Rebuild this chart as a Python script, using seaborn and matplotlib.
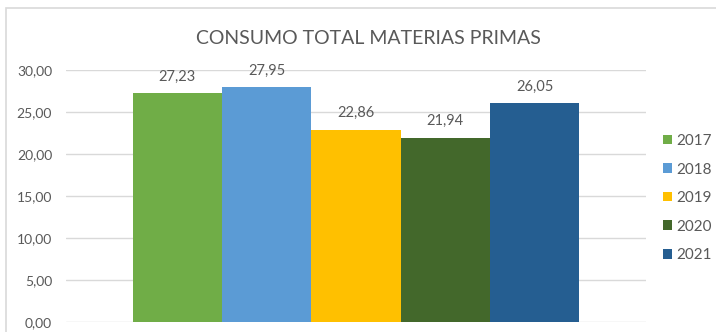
import matplotlib
matplotlib.use("Agg")
import matplotlib.pyplot as plt
import seaborn as sns
import pandas as pd
from matplotlib.patches import Rectangle

years = ["2017", "2018", "2019", "2020", "2021"]
values = [27.23, 27.95, 22.86, 21.94, 26.05]
colors = ["#70AD47", "#5B9BD5", "#FFC000", "#43682B", "#255E91"]
yticks = [0, 5, 10, 15, 20, 25, 30]
title = "CONSUMO TOTAL MATERIAS PRIMAS"

sns.set_theme(style="white")
plt.rcParams["font.family"] = ["Lato", "DejaVu Sans"]

df = pd.DataFrame({"cat": ["x"] * len(years), "year": years, "value": values})

fig = plt.figure(figsize=(7.16, 3.32), dpi=100)
ax = fig.add_axes([66 / 716, 1 - 322 / 332, (646 - 66) / 716, (322 - 70) / 332])

sns.barplot(data=df, x="cat", y="value", hue="year", palette=colors,
            width=0.77, gap=0, saturation=1, ax=ax, legend=True,
            edgecolor="none", linewidth=0)

ax.set_xlim(-0.5, 0.5)
ax.set_ylim(0, 30)
ax.set_yticks(yticks)
ax.set_yticklabels([f"{v:.2f}".replace(".", ",") for v in yticks],
                   fontsize=10, color="#595959")
ax.set_xticks([])
ax.set_xlabel("")
ax.set_ylabel("")
ax.tick_params(axis="y", length=0, pad=10)
ax.grid(axis="y", color="#D9D9D9", linewidth=1)
ax.set_axisbelow(True)
for s in ax.spines.values():
    s.set_visible(False)

for cont in ax.containers:
    for bar, v in zip(cont, cont.datavalues):
        ax.annotate(f"{v:.2f}".replace(".", ","),
                    (bar.get_x() + bar.get_width() / 2, bar.get_height()),
                    xytext=(0, 7), textcoords="offset points",
                    ha="center", va="bottom", fontsize=10.5, color="#595959")

leg = ax.legend(loc="upper left", bbox_to_anchor=(663 / 716, 1 - 134 / 332),
                bbox_transform=fig.transFigure, frameon=False, fontsize=11,
                handlelength=0.6, handleheight=0.6, handletextpad=0.3,
                labelspacing=0.95, borderaxespad=0, borderpad=0)
for t in leg.get_texts():
    t.set_color("#595959")

fig.text(368 / 716, 1 - 38 / 332, title, ha="center",
         va="center", fontsize=14, color="#595959")

fig.patches.append(Rectangle((6 / 716, -0.1), 1.2, 1 - 8 / 332 + 0.1,
                             transform=fig.transFigure, fill=False,
                             edgecolor="#D9D9D9", linewidth=1.2, zorder=0))

fig.savefig("out.png", dpi=100)
